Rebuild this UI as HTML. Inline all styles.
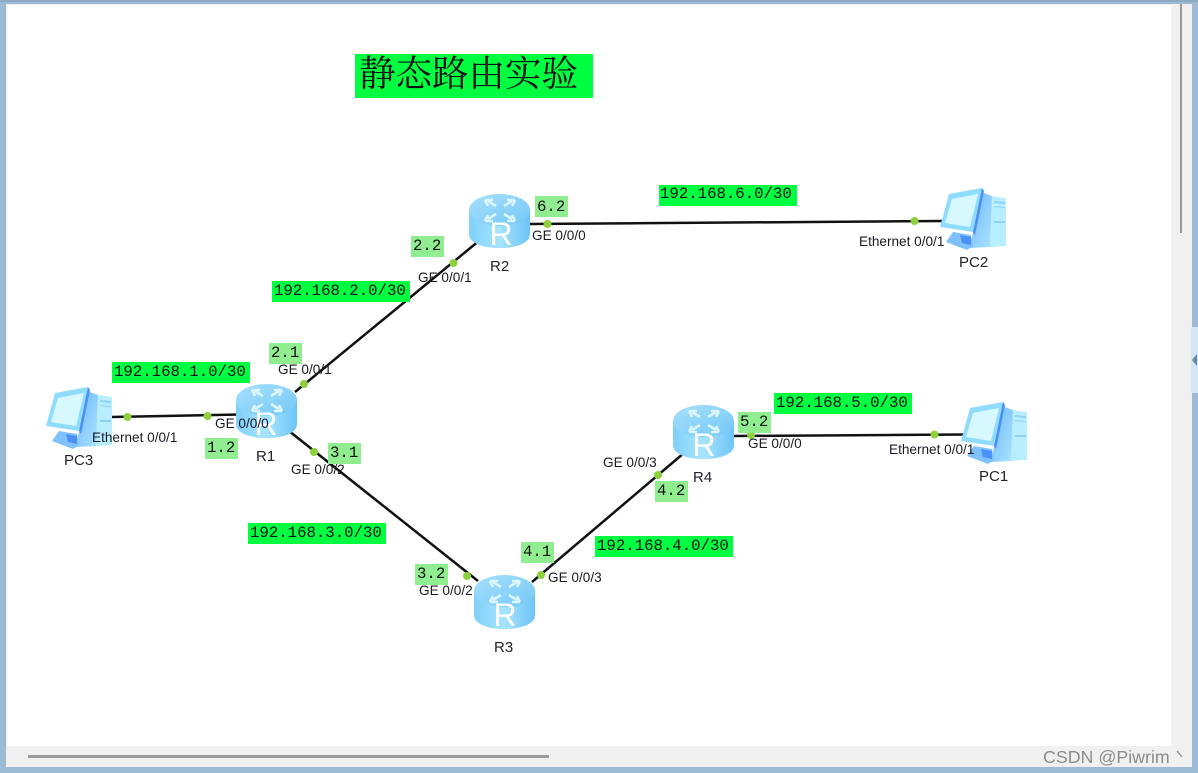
<!DOCTYPE html>
<html><head><meta charset="utf-8"><style>
html,body{margin:0;padding:0;background:#fff}
svg{display:block;filter:blur(.35px)}
text{font-family:"Liberation Sans",sans-serif;fill:#1a1a24}
.p{font-size:13.600px}
.n{font-size:15px;fill:#22222e}
.m{font-family:"Liberation Mono",monospace;font-size:15.700px;fill:#111}
.l{stroke:#111;stroke-width:2.500;fill:none}
.d{fill:#8ad13c}
.g{fill:#00ff40}
.s{fill:#90ee90}
.r{font-size:32px;fill:#fff;text-anchor:middle}
</style></head><body>
<svg width="1198" height="773" viewBox="0 0 1198 773" xmlns="http://www.w3.org/2000/svg">
<defs>
<linearGradient id="rb" x1="0" x2="1" y1="0" y2="0"><stop offset="0" stop-color="#7fd0fb"/><stop offset=".5" stop-color="#a8e4ff"/><stop offset="1" stop-color="#6cc4f8"/></linearGradient>
<linearGradient id="rt" x1="0" x2="1" y1="0" y2="1"><stop offset="0" stop-color="#a6e0fd"/><stop offset="1" stop-color="#74c8f6"/></linearGradient>
<linearGradient id="ps" x1="0" x2="1" y1="0" y2="1"><stop offset="0" stop-color="#6fb6ff"/><stop offset="1" stop-color="#a8e4ff"/></linearGradient>
<g id="router">
<path d="M0 16V40C0 49 13.500 54 30.500 54S61 49 61 40V16Z" fill="url(#rb)"/>
<ellipse cx="30.500" cy="16" rx="30.500" ry="16" fill="url(#rt)"/>
<g fill="none" stroke="#dcf5ff" stroke-width="2.600">
<path d="M27 12L19 7M16 6h8M16 6l3 6"/>
<path d="M35 12L43 7M46 6h-8M46 6l-3 6"/>
<path d="M27 20L19 25M16 27h8M16 27l3-6"/>
<path d="M35 20L43 25M46 27h-8M46 27l-3-6"/>
</g>
</g>
<g id="pc">
<path d="M52 8L66 10V58L50 59Z" fill="#b8eeff"/>
<path d="M41 4L52 8 50 59 30 60Z" fill="url(#ps)"/>
<path d="M54 13L65 14V16L54 15ZM54 18L65 19V20L54 19ZM54 33L65 33V35L54 35Z" fill="#8fd0f5"/>
<path d="M9 6L42 0 33 44 0 39Z" fill="#8fdcff"/>
<path d="M12 11L38 6 30 39 5 35Z" fill="#d8f8ff"/>
<path d="M42 0L44 3 35 47 33 44Z" fill="#4a8ff5"/>
<path d="M13 44L31 47 33 58 27 62 6 54Z" fill="#7fc0ff"/>
<path d="M20 47L31 49 31 57 22 55Z" fill="#4a90f5"/>
</g>
</defs>

<!-- window frame -->
<rect width="1198" height="773" fill="#9dbad5"/>
<rect x="0" y="0" width="1198" height="2" fill="#8ea9c4"/>
<rect x="6" y="4" width="1186" height="763" fill="#f0f0f0"/>
<rect x="7" y="5" width="1164" height="741" fill="#fff"/>
<rect x="1180" y="4" width="2" height="229" fill="#9a9a9a"/>
<rect x="28" y="755" width="521" height="3" fill="#9a9a9a"/>
<rect x="1191" y="327" width="7" height="66" fill="#d4e8f6"/>
<path d="M1197 354L1192 360 1197 366Z" fill="#5f87a8"/>

<!-- title -->
<rect x="355" y="54" width="238" height="44" class="g"/>
<text x="359" y="86" style="font-family:'Liberation Serif','Noto Serif CJK SC',serif;font-size:36.500px;fill:#111">静态路由实验</text>

<!-- links -->
<path class="l" d="M111 417L240 414.500"/>
<path class="l" d="M295 392L480 240"/>
<path class="l" d="M289 431L478 581"/>
<path class="l" d="M528 224L943 221"/>
<path class="l" d="M532 582L684 453"/>
<path class="l" d="M732 436L964 434.500"/>

<!-- devices -->
<use href="#router" x="236" y="384"/>
<use href="#router" x="469" y="194"/>
<use href="#router" x="474" y="575"/>
<use href="#router" x="673" y="405"/>
<text class="r" x="266" y="435">R</text>
<text class="r" x="501" y="245">R</text>
<text class="r" x="505" y="626">R</text>
<text class="r" x="704" y="456">R</text>
<use href="#pc" x="46" y="387"/>
<use href="#pc" x="940" y="188"/>
<use href="#pc" x="961" y="402"/>

<!-- green dots -->
<g class="d">
<circle cx="127.500" cy="417" r="4"/><circle cx="207.500" cy="416" r="4"/>
<circle cx="304" cy="384" r="4"/><circle cx="453.500" cy="263" r="4"/>
<circle cx="314" cy="452" r="4"/><circle cx="467" cy="576" r="4"/>
<circle cx="541" cy="575" r="4"/><circle cx="658" cy="475" r="4"/>
<circle cx="547.500" cy="224" r="4"/><circle cx="914.500" cy="221" r="4"/>
<circle cx="751" cy="435" r="4"/><circle cx="934.500" cy="434.500" r="4"/>
</g>

<!-- network labels -->
<g>
<rect class="g" x="112" y="362" width="138" height="21"/><text class="m" x="114" y="376">192.168.1.0/30</text>
<rect class="g" x="272" y="281" width="138" height="21"/><text class="m" x="274" y="295">192.168.2.0/30</text>
<rect class="g" x="248" y="523" width="138" height="21"/><text class="m" x="250" y="537">192.168.3.0/30</text>
<rect class="g" x="595" y="536" width="138" height="21"/><text class="m" x="597" y="550">192.168.4.0/30</text>
<rect class="g" x="774" y="393" width="138" height="21"/><text class="m" x="776" y="407">192.168.5.0/30</text>
<rect class="g" x="659" y="185" width="138" height="21"/><text class="m" x="660" y="198">192.168.6.0/30</text>
</g>

<!-- host labels -->
<g>
<rect class="s" x="205" y="438" width="33" height="21"/><text class="m" x="207" y="452">1.2</text>
<rect class="s" x="269" y="343" width="33" height="21"/><text class="m" x="271" y="357">2.1</text>
<rect class="s" x="411" y="236" width="33" height="21"/><text class="m" x="413" y="250">2.2</text>
<rect class="s" x="328" y="443" width="33" height="21"/><text class="m" x="330" y="457">3.1</text>
<rect class="s" x="415" y="564" width="33" height="21"/><text class="m" x="417" y="578">3.2</text>
<rect class="s" x="521" y="542" width="33" height="21"/><text class="m" x="523" y="556">4.1</text>
<rect class="s" x="655" y="481" width="33" height="21"/><text class="m" x="657" y="495">4.2</text>
<rect class="s" x="738" y="412" width="33" height="21"/><text class="m" x="740" y="426">5.2</text>
<rect class="s" x="535" y="196" width="33" height="21"/><text class="m" x="537" y="211">6.2</text>
</g>

<!-- port labels -->
<g>
<text class="p" x="92" y="442">Ethernet 0/0/1</text>
<text class="p" x="215" y="428">GE 0/0/0</text>
<text class="p" x="278" y="374">GE 0/0/1</text>
<text class="p" x="291" y="474">GE 0/0/2</text>
<text class="p" x="418" y="282">GE 0/0/1</text>
<text class="p" x="532" y="240">GE 0/0/0</text>
<text class="p" x="859" y="246">Ethernet 0/0/1</text>
<text class="p" x="419" y="595">GE 0/0/2</text>
<text class="p" x="548" y="582">GE 0/0/3</text>
<text class="p" x="603" y="467">GE 0/0/3</text>
<text class="p" x="748" y="448">GE 0/0/0</text>
<text class="p" x="889" y="454">Ethernet 0/0/1</text>
</g>

<!-- device names -->
<text class="n" x="64" y="465">PC3</text>
<text class="n" x="256" y="461">R1</text>
<text class="n" x="490" y="271">R2</text>
<text class="n" x="494" y="652">R3</text>
<text class="n" x="693" y="482">R4</text>
<text class="n" x="959" y="267">PC2</text>
<text class="n" x="979" y="481">PC1</text>

<!-- watermark -->
<text x="1043" y="763" style="font-size:17.800px;fill:#8c8c8c">CSDN @Piwrim</text>
<path d="M1177 751L1182 757" stroke="#999" stroke-width="1.500"/>
</svg>
</body></html>
